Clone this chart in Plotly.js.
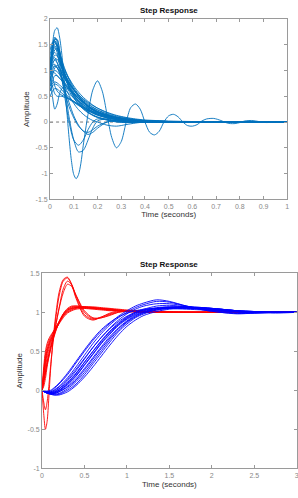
<!DOCTYPE html>
<html>
<head>
<meta charset="utf-8">
<script src="https://cdn.plot.ly/plotly-3.0.1.min.js"></script>
<style>
  html, body { margin: 0; padding: 0; background: #fff; }
  #chart { width: 298px; height: 498px; }
</style>
</head>
<body>
<div id="chart"></div>
<script>
// ---- Upper panel: family of decaying step responses (time in seconds) ----
const tBundle = [0, 0.01, 0.02, 0.03, 0.04, 0.05, 0.06, 0.08, 0.10, 0.12, 0.14, 0.16, 0.18, 0.20, 0.24, 0.28, 0.32, 0.36, 0.40, 0.50, 0.60, 1.00];

const b1  = [1.0, 1.4, 1.62, 1.6, 1.4, 1.15, 0.95, 0.7, 0.52, 0.4, 0.3, 0.23, 0.17, 0.13, 0.08, 0.05, 0.03, 0.02, 0.01, 0, 0, 0];
const b2  = [0.9, 1.3, 1.52, 1.5, 1.35, 1.15, 0.98, 0.75, 0.58, 0.45, 0.35, 0.27, 0.2, 0.15, 0.09, 0.05, 0.03, 0.02, 0.01, 0, 0, 0];
const b3  = [1.1, 1.45, 1.58, 1.45, 1.25, 1.05, 0.9, 0.68, 0.5, 0.38, 0.28, 0.2, 0.14, 0.1, 0.05, 0.03, 0.01, 0, 0, 0, 0, 0];
const b4  = [1.0, 1.2, 1.3, 1.28, 1.18, 1.05, 0.95, 0.78, 0.62, 0.5, 0.4, 0.32, 0.25, 0.2, 0.13, 0.08, 0.05, 0.03, 0.02, 0, 0, 0];
const b5  = [1.0, 1.15, 1.2, 1.15, 1.05, 0.95, 0.85, 0.7, 0.57, 0.47, 0.38, 0.3, 0.24, 0.19, 0.12, 0.08, 0.05, 0.03, 0.02, 0.01, 0, 0];
const b6  = [1.0, 0.98, 0.95, 0.9, 0.85, 0.8, 0.75, 0.65, 0.55, 0.46, 0.38, 0.31, 0.25, 0.2, 0.13, 0.08, 0.05, 0.03, 0.02, 0, 0, 0];
const b7  = [0.8, 0.95, 1.0, 0.98, 0.92, 0.85, 0.78, 0.66, 0.55, 0.45, 0.37, 0.3, 0.24, 0.19, 0.12, 0.08, 0.05, 0.03, 0.02, 0.01, 0, 0];
const b8  = [0.6, 0.8, 0.9, 0.9, 0.85, 0.8, 0.74, 0.64, 0.54, 0.46, 0.38, 0.31, 0.26, 0.21, 0.14, 0.09, 0.06, 0.04, 0.02, 0.01, 0, 0];
const b9  = [0.9, 0.5, 0.25, 0.35, 0.55, 0.65, 0.68, 0.62, 0.52, 0.42, 0.33, 0.26, 0.2, 0.15, 0.09, 0.05, 0.03, 0.02, 0.01, 0, 0, 0];
const b10 = [0.7, 0.75, 0.78, 0.76, 0.72, 0.68, 0.63, 0.55, 0.47, 0.4, 0.34, 0.28, 0.23, 0.19, 0.13, 0.09, 0.06, 0.04, 0.02, 0.01, 0, 0];
const b11 = [0.5, 0.6, 0.65, 0.64, 0.6, 0.56, 0.52, 0.46, 0.4, 0.34, 0.29, 0.24, 0.2, 0.17, 0.12, 0.08, 0.05, 0.03, 0.02, 0.01, 0, 0];
const b12 = [1.0, 1.3, 1.45, 1.35, 1.1, 0.85, 0.6, 0.3, 0.08, -0.08, -0.17, -0.2, -0.15, -0.08, 0.0, 0.02, 0.01, 0, 0, 0, 0, 0];
const b13 = [1.0, 1.45, 1.65, 1.55, 1.25, 0.9, 0.55, 0.0, -0.35, -0.45, -0.35, -0.15, 0.0, 0.06, 0.04, 0.0, -0.01, 0, 0, 0, 0, 0];
const b14 = [1.0, 1.35, 1.6, 1.6, 1.4, 1.1, 0.75, 0.1, -0.35, -0.58, -0.55, -0.35, -0.12, 0.02, 0.06, 0.02, 0, 0, 0, 0, 0, 0];
const b15 = [0.8, 1.0, 1.1, 1.05, 0.95, 0.8, 0.65, 0.38, 0.12, -0.06, -0.18, -0.24, -0.2, -0.12, 0.0, 0.03, 0.01, 0, 0, 0, 0, 0];
const b16 = [1.0, 1.2, 1.25, 1.15, 1.0, 0.85, 0.72, 0.52, 0.36, 0.24, 0.15, 0.08, 0.03, 0.0, -0.06, -0.08, -0.05, -0.02, 0, 0, 0, 0];
const b17 = [1.2, 1.3, 1.35, 1.3, 1.2, 1.1, 1.0, 0.85, 0.7, 0.58, 0.48, 0.4, 0.33, 0.27, 0.18, 0.12, 0.08, 0.05, 0.03, 0.01, 0, 0];
const b18 = [1.0, 1.05, 1.08, 1.05, 1.0, 0.93, 0.86, 0.74, 0.63, 0.53, 0.45, 0.38, 0.32, 0.27, 0.19, 0.13, 0.09, 0.06, 0.04, 0.02, 0.01, 0];
const b19 = [0.7, 0.9, 1.05, 1.1, 1.05, 0.98, 0.9, 0.76, 0.62, 0.5, 0.4, 0.32, 0.25, 0.2, 0.12, 0.07, 0.04, 0.02, 0.01, 0, 0, 0];
const b20 = [1.3, 1.5, 1.55, 1.45, 1.3, 1.12, 0.96, 0.72, 0.54, 0.41, 0.31, 0.24, 0.18, 0.14, 0.08, 0.05, 0.03, 0.02, 0.01, 0, 0, 0];
const b21 = [0.9, 0.7, 0.55, 0.5, 0.5, 0.5, 0.48, 0.44, 0.38, 0.32, 0.27, 0.22, 0.18, 0.15, 0.1, 0.06, 0.04, 0.02, 0.01, 0, 0, 0];
const b22 = [1.1, 0.9, 0.7, 0.6, 0.55, 0.52, 0.5, 0.45, 0.4, 0.35, 0.3, 0.25, 0.21, 0.17, 0.11, 0.07, 0.04, 0.02, 0.01, 0, 0, 0];
const b23 = [1.0, 1.25, 1.4, 1.42, 1.32, 1.18, 1.04, 0.82, 0.64, 0.5, 0.39, 0.3, 0.23, 0.18, 0.11, 0.07, 0.04, 0.02, 0.01, 0, 0, 0];
const b24 = [1.2, 1.4, 1.48, 1.4, 1.24, 1.06, 0.9, 0.66, 0.48, 0.35, 0.25, 0.18, 0.13, 0.09, 0.05, 0.02, 0.01, 0, 0, 0, 0, 0];
const b25 = [0.9, 1.1, 1.22, 1.22, 1.14, 1.04, 0.94, 0.77, 0.63, 0.51, 0.42, 0.34, 0.28, 0.23, 0.15, 0.1, 0.06, 0.04, 0.02, 0.01, 0, 0];
const b26 = [0.6, 0.7, 0.74, 0.72, 0.68, 0.62, 0.57, 0.48, 0.4, 0.33, 0.27, 0.22, 0.18, 0.14, 0.09, 0.05, 0.03, 0.02, 0.01, 0, 0, 0];
const b27 = [1.0, 1.1, 1.12, 1.06, 0.96, 0.86, 0.76, 0.6, 0.46, 0.35, 0.26, 0.19, 0.13, 0.09, 0.04, 0.01, -0.01, -0.01, 0, 0, 0, 0];
const b28 = [1.4, 1.55, 1.58, 1.5, 1.36, 1.2, 1.06, 0.84, 0.67, 0.54, 0.44, 0.36, 0.29, 0.24, 0.16, 0.1, 0.07, 0.04, 0.03, 0.01, 0, 0];
const bundle = [b1, b2, b3, b4, b5, b6, b7, b8, b9, b10, b11, b12, b13, b14, b15, b16, b17, b18, b19, b20,
                b21, b22, b23, b24, b25, b26, b27, b28];

// lightly damped member of the family
const tOsc = [0, 0.01, 0.02, 0.03, 0.04, 0.05, 0.06, 0.07, 0.08, 0.09, 0.10, 0.11, 0.12, 0.13, 0.14, 0.16, 0.18, 0.20, 0.22, 0.24, 0.26, 0.28, 0.30, 0.32, 0.34, 0.36, 0.38, 0.40, 0.42, 0.44, 0.46, 0.48, 0.50, 0.52, 0.54, 0.56, 0.58, 0.60, 0.62, 0.64, 0.66, 0.69, 0.72, 0.74, 0.76, 0.78, 0.80, 0.82, 0.85, 0.88, 0.91, 0.95, 1.00];
const yOsc = [1.0, 1.5, 1.78, 1.83, 1.65, 1.3, 0.8, 0.25, -0.3, -0.75, -1.02, -1.1, -1.02, -0.8, -0.45, 0.15, 0.62, 0.8, 0.6, 0.15, -0.3, -0.5, -0.38, -0.02, 0.28, 0.35, 0.25, 0.0, -0.2, -0.25, -0.18, 0.0, 0.12, 0.15, 0.1, 0.0, -0.07, -0.08, -0.05, 0.02, 0.06, 0.07, 0.03, -0.01, -0.03, -0.03, -0.01, 0.02, 0.03, 0.01, -0.01, 0.0, 0.0];

// ---- Lower panel: two families of unit step responses ----
const tRed = [0, 0.02, 0.04, 0.06, 0.08, 0.10, 0.13, 0.16, 0.20, 0.25, 0.30, 0.35, 0.40, 0.50, 0.60, 0.70, 0.80, 0.90, 1.00, 1.20, 1.50, 2.00, 3.00];
const r1  = [0, -0.3, -0.5, -0.4, -0.1, 0.25, 0.65, 0.95, 1.25, 1.42, 1.45, 1.35, 1.18, 0.95, 0.9, 0.94, 0.99, 1.02, 1.02, 1.0, 1.0, 1.0, 1.0];
const r2  = [0, -0.15, -0.25, -0.15, 0.05, 0.3, 0.62, 0.9, 1.2, 1.4, 1.44, 1.36, 1.2, 0.97, 0.91, 0.94, 0.98, 1.01, 1.02, 1.01, 1.0, 1.0, 1.0];
const r3  = [0, 0.1, 0.22, 0.33, 0.43, 0.52, 0.66, 0.82, 1.05, 1.3, 1.4, 1.35, 1.22, 1.0, 0.92, 0.93, 0.97, 1.0, 1.02, 1.01, 1.0, 1.0, 1.0];
const r4  = [0, 0.12, 0.25, 0.36, 0.46, 0.55, 0.68, 0.83, 1.04, 1.25, 1.36, 1.33, 1.22, 1.02, 0.93, 0.93, 0.96, 1.0, 1.01, 1.01, 1.0, 1.0, 1.0];
const r5  = [0, 0.2, 0.38, 0.5, 0.58, 0.64, 0.71, 0.78, 0.86, 0.95, 1.01, 1.04, 1.06, 1.07, 1.07, 1.06, 1.05, 1.04, 1.03, 1.02, 1.01, 1.0, 1.0];
const r6  = [0, 0.25, 0.45, 0.56, 0.63, 0.68, 0.74, 0.8, 0.88, 0.97, 1.03, 1.06, 1.07, 1.07, 1.06, 1.05, 1.04, 1.03, 1.02, 1.01, 1.0, 1.0, 1.0];
const r7  = [0, 0.15, 0.3, 0.42, 0.52, 0.6, 0.69, 0.77, 0.86, 0.96, 1.02, 1.05, 1.06, 1.06, 1.05, 1.04, 1.03, 1.02, 1.02, 1.01, 1.0, 1.0, 1.0];
const r8  = [0, 0.3, 0.5, 0.6, 0.66, 0.7, 0.75, 0.8, 0.87, 0.95, 1.0, 1.03, 1.05, 1.06, 1.06, 1.05, 1.04, 1.03, 1.02, 1.01, 1.0, 1.0, 1.0];
const r9  = [0, 0.1, 0.22, 0.35, 0.46, 0.55, 0.66, 0.76, 0.87, 0.98, 1.04, 1.07, 1.08, 1.07, 1.06, 1.04, 1.03, 1.02, 1.01, 1.0, 1.0, 1.0, 1.0];
const r10 = [0, 0.22, 0.4, 0.52, 0.6, 0.66, 0.72, 0.78, 0.85, 0.93, 0.99, 1.02, 1.04, 1.05, 1.05, 1.05, 1.04, 1.03, 1.02, 1.01, 1.0, 1.0, 1.0];
const r11 = [0, 0.18, 0.34, 0.47, 0.56, 0.63, 0.71, 0.79, 0.88, 0.97, 1.03, 1.05, 1.06, 1.05, 1.04, 1.03, 1.02, 1.02, 1.01, 1.01, 1.0, 1.0, 1.0];
const r12 = [0, 0.05, 0.15, 0.3, 0.42, 0.52, 0.64, 0.75, 0.87, 0.98, 1.05, 1.08, 1.08, 1.07, 1.05, 1.04, 1.03, 1.02, 1.01, 1.0, 1.0, 1.0, 1.0];
const redSet = [r1, r2, r3, r4, r5, r6, r7, r8, r9, r10, r11, r12];

const tBlue = [0, 0.05, 0.10, 0.15, 0.20, 0.30, 0.40, 0.50, 0.60, 0.70, 0.80, 0.90, 1.00, 1.10, 1.20, 1.35, 1.50, 1.70, 1.90, 2.10, 2.30, 2.50, 2.75, 3.00];
const c1  = [0, -0.02, -0.01, 0.03, 0.08, 0.2, 0.35, 0.5, 0.64, 0.76, 0.86, 0.95, 1.02, 1.08, 1.12, 1.16, 1.14, 1.08, 1.03, 1.0, 0.98, 0.99, 1.0, 1.0];
const c2  = [0, -0.02, -0.02, 0.01, 0.05, 0.16, 0.3, 0.45, 0.6, 0.73, 0.84, 0.93, 1.0, 1.06, 1.1, 1.14, 1.13, 1.08, 1.03, 1.0, 0.985, 0.99, 1.0, 1.0];
const c3  = [0, -0.03, -0.03, -0.01, 0.02, 0.12, 0.25, 0.4, 0.55, 0.68, 0.8, 0.9, 0.98, 1.04, 1.08, 1.11, 1.11, 1.08, 1.04, 1.01, 0.99, 0.99, 1.0, 1.0];
const c4  = [0, -0.03, -0.04, -0.03, -0.01, 0.07, 0.18, 0.32, 0.46, 0.6, 0.72, 0.83, 0.91, 0.97, 1.01, 1.05, 1.07, 1.07, 1.05, 1.03, 1.01, 1.0, 1.0, 1.0];
const c5  = [0, -0.03, -0.04, -0.04, -0.02, 0.05, 0.15, 0.28, 0.42, 0.56, 0.69, 0.8, 0.89, 0.96, 1.0, 1.04, 1.06, 1.07, 1.06, 1.04, 1.02, 1.01, 1.0, 1.0];
const c6  = [0, -0.02, -0.03, -0.02, 0.0, 0.09, 0.21, 0.36, 0.5, 0.63, 0.75, 0.85, 0.93, 0.99, 1.03, 1.06, 1.07, 1.06, 1.04, 1.02, 1.01, 1.0, 1.0, 1.0];
const c7  = [0, -0.03, -0.05, -0.05, -0.04, 0.02, 0.11, 0.23, 0.37, 0.51, 0.65, 0.77, 0.87, 0.94, 0.99, 1.03, 1.05, 1.06, 1.05, 1.04, 1.02, 1.01, 1.0, 1.0];
const c8  = [0, -0.03, -0.05, -0.06, -0.05, 0.0, 0.08, 0.2, 0.34, 0.48, 0.62, 0.75, 0.85, 0.93, 0.98, 1.03, 1.05, 1.06, 1.06, 1.04, 1.02, 1.01, 1.0, 1.0];
const c9  = [0, -0.02, -0.02, 0.0, 0.04, 0.14, 0.27, 0.41, 0.55, 0.68, 0.79, 0.88, 0.95, 1.0, 1.03, 1.05, 1.06, 1.05, 1.04, 1.02, 1.01, 1.0, 1.0, 1.0];
const c10 = [0, -0.03, -0.04, -0.03, 0.0, 0.08, 0.19, 0.33, 0.47, 0.61, 0.73, 0.84, 0.92, 0.98, 1.02, 1.05, 1.06, 1.06, 1.05, 1.03, 1.01, 1.0, 1.0, 1.0];
const c11 = [0, -0.01, 0.0, 0.04, 0.09, 0.22, 0.37, 0.52, 0.66, 0.78, 0.87, 0.94, 0.99, 1.02, 1.04, 1.05, 1.05, 1.04, 1.03, 1.02, 1.01, 1.0, 1.0, 1.0];
const c12 = [0, -0.03, -0.05, -0.06, -0.06, -0.02, 0.06, 0.17, 0.3, 0.44, 0.58, 0.71, 0.82, 0.9, 0.96, 1.01, 1.04, 1.05, 1.05, 1.04, 1.02, 1.01, 1.0, 1.0];
const c13 = [0, -0.02, -0.03, -0.02, 0.02, 0.1, 0.22, 0.36, 0.5, 0.64, 0.76, 0.86, 0.94, 1.0, 1.04, 1.08, 1.09, 1.07, 1.04, 1.02, 1.0, 1.0, 1.0, 1.0];
const c14 = [0, -0.03, -0.04, -0.04, -0.02, 0.04, 0.13, 0.26, 0.4, 0.54, 0.67, 0.79, 0.88, 0.95, 1.0, 1.04, 1.06, 1.07, 1.06, 1.04, 1.02, 1.0, 0.99, 1.0];
const blueSet = [c1, c2, c3, c4, c5, c6, c7, c8, c9, c10, c11, c12, c13, c14];

// axis tick values
const xTicksTop = [0, 0.1, 0.2, 0.3, 0.4, 0.5, 0.6, 0.7, 0.8, 0.9, 1];
const yTicksTop = [-1.5, -1, -0.5, 0, 0.5, 1, 1.5, 2];
const xTicksBot = [0, 0.5, 1, 1.5, 2, 2.5, 3];
const yTicksBot = [-1, -0.5, 0, 0.5, 1, 1.5];

const MATLAB_BLUE = 'rgb(0,114,189)';
const FONT = 'Liberation Sans, Arial, sans-serif';

const traces = [];

// dotted steady-state reference of the upper panel
traces.push({
  x: [0, 1], y: [0, 0], xaxis: 'x', yaxis: 'y', mode: 'lines',
  line: { color: '#555', width: 0.8, dash: 'dot' }, hoverinfo: 'skip'
});

bundle.forEach(y => traces.push({
  x: tBundle, y: y, xaxis: 'x', yaxis: 'y', mode: 'lines',
  line: { color: MATLAB_BLUE, width: 0.9, shape: 'spline', smoothing: 0.8 }
}));
traces.push({
  x: tOsc, y: yOsc, xaxis: 'x', yaxis: 'y', mode: 'lines',
  line: { color: MATLAB_BLUE, width: 0.9, shape: 'spline', smoothing: 0.8 }
});

redSet.forEach(y => traces.push({
  x: tRed, y: y, xaxis: 'x2', yaxis: 'y2', mode: 'lines',
  line: { color: '#ff0000', width: 0.9, shape: 'spline', smoothing: 0.8 }
}));
blueSet.forEach(y => traces.push({
  x: tBlue, y: y, xaxis: 'x2', yaxis: 'y2', mode: 'lines',
  line: { color: '#0000ff', width: 0.9, shape: 'spline', smoothing: 0.8 }
}));

const axisCommon = {
  showgrid: false, zeroline: false, showline: true, mirror: 'ticks',
  linecolor: '#9a9a9a', linewidth: 1, ticks: 'inside', ticklen: 3,
  tickcolor: '#9a9a9a', tickfont: { family: FONT, size: 7, color: '#888' },
  ticklabeloverflow: 'allow', fixedrange: true
};

const layout = {
  width: 298, height: 498,
  margin: { l: 0, r: 0, t: 0, b: 0 },
  paper_bgcolor: '#fff', plot_bgcolor: '#fff',
  showlegend: false,
  xaxis: Object.assign({}, axisCommon, {
    domain: [0.168, 0.964], anchor: 'y', range: [0, 1],
    tickvals: xTicksTop, ticktext: xTicksTop.map(String),
    title: { text: 'Time (seconds)', font: { family: FONT, size: 8, color: '#333' }, standoff: 2 }
  }),
  yaxis: Object.assign({}, axisCommon, {
    domain: [0.5998, 0.9618], anchor: 'x', range: [-1.5, 2],
    tickvals: yTicksTop, ticktext: yTicksTop.map(String),
    title: { text: 'Amplitude', font: { family: FONT, size: 8, color: '#333' }, standoff: 4 }
  }),
  xaxis2: Object.assign({}, axisCommon, {
    domain: [0.141, 0.9956], anchor: 'y2', range: [0, 3],
    tickvals: xTicksBot, ticktext: xTicksBot.map(String),
    title: { text: 'Time (seconds)', font: { family: FONT, size: 8, color: '#333' }, standoff: 3 }
  }),
  yaxis2: Object.assign({}, axisCommon, {
    domain: [0.0596, 0.4512], anchor: 'x2', range: [-1, 1.5],
    tickvals: yTicksBot, ticktext: yTicksBot.map(String),
    title: { text: 'Amplitude', font: { family: FONT, size: 8, color: '#333' }, standoff: 3 }
  }),
  annotations: [
    { text: '<b>Step Response</b>', xref: 'paper', yref: 'paper', x: 0.566, y: 0.9799,
      xanchor: 'center', yanchor: 'middle', showarrow: false,
      font: { family: FONT, size: 8, color: '#111' } },
    { text: '<b>Step Response</b>', xref: 'paper', yref: 'paper', x: 0.568, y: 0.4679,
      xanchor: 'center', yanchor: 'middle', showarrow: false,
      font: { family: FONT, size: 8, color: '#111' } }
  ]
};

Plotly.newPlot('chart', traces, layout, { staticPlot: true, displayModeBar: false });
</script>
</body>
</html>
